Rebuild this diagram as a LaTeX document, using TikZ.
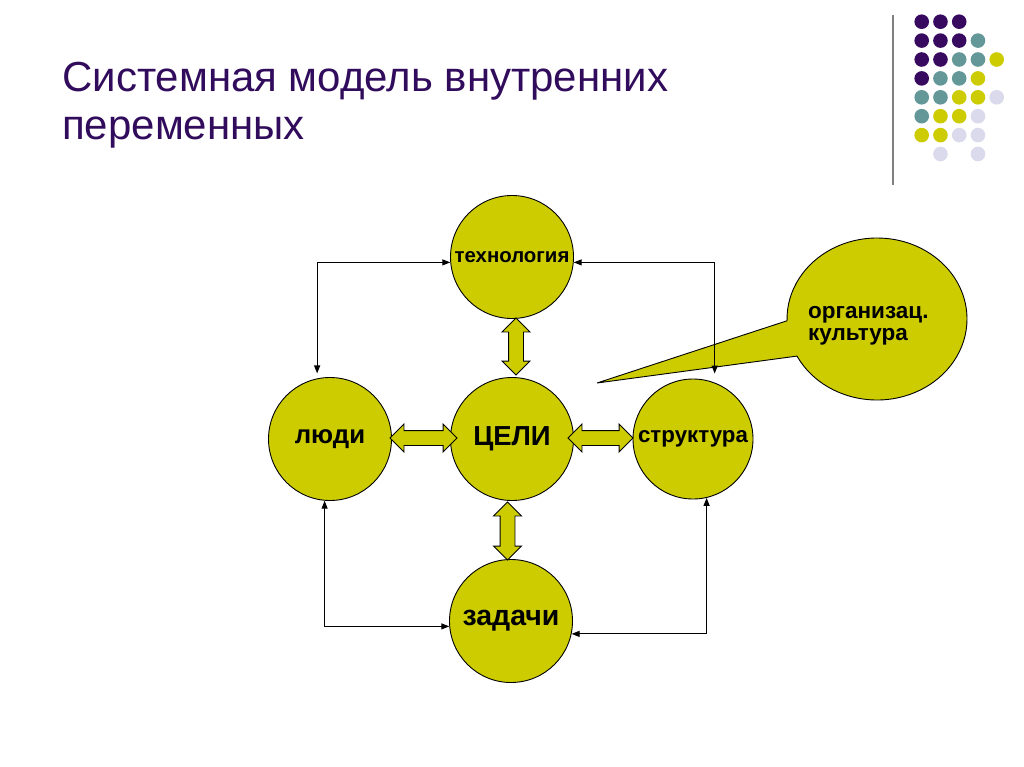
\documentclass[tikz,border=0pt]{standalone}
\usepackage{fontspec}
\setmainfont{Liberation Sans}
\usetikzlibrary{shapes.geometric, shapes.arrows, shapes.callouts, arrows.meta}
\definecolor{TitlePurple}{RGB}{50,12,92}
\definecolor{dotP}{RGB}{55,10,95}
\definecolor{dotT}{RGB}{100,152,152}
\definecolor{dotY}{RGB}{204,204,0}
\definecolor{dotL}{RGB}{218,218,236}
\definecolor{Olive}{RGB}{204,204,0}
\newcommand{\fsz}[1]{\bfseries\fontsize{#1}{#1}\selectfont}
\tikzstyle{factor} = [circle, draw=black, line width=0.9pt, fill=Olive, minimum size=123pt, inner sep=0pt]
\tikzstyle{link} = [{Triangle[length=8pt,width=6pt]}-{Triangle[length=8pt,width=6pt]}, line width=1.2pt]
\tikzstyle{fat} = [double arrow, draw=black, line width=0.9pt, fill=Olive, double arrow head extend=6.5pt, inner sep=7pt]

\begin{document}
\begin{tikzpicture}[x=1pt,y=-1pt]
  \useasboundingbox (0,0) rectangle (1024,767);
  \fill[white] (0,0) rectangle (1024,767);
  \node[anchor=base west, text=TitlePurple, font=\fontsize{42}{48}\selectfont, inner sep=0pt] (title1) at (62,92) {Системная модель внутренних};
  \node[anchor=base west, text=TitlePurple, font=\fontsize{42}{48}\selectfont, inner sep=0pt] (title2) at (62,140) {переменных};
  \draw[gray, line width=1.5pt] (893,15) -- (893,185);
  \foreach \c/\r/\clr in {1/0/dotP, 2/0/dotP, 3/0/dotP,
      1/1/dotP, 2/1/dotP, 3/1/dotP, 4/1/dotT,
      1/2/dotP, 2/2/dotP, 3/2/dotT, 4/2/dotT, 5/2/dotY,
      1/3/dotP, 2/3/dotT, 3/3/dotT, 4/3/dotY,
      1/4/dotT, 2/4/dotT, 3/4/dotY, 4/4/dotY, 5/4/dotL,
      1/5/dotT, 2/5/dotY, 3/5/dotY, 4/5/dotL,
      1/6/dotY, 2/6/dotY, 3/6/dotL, 4/6/dotL,
      2/7/dotL, 4/7/dotL}
    \fill[\clr] ({921.7+(\c-1)*18.75},{21.7+\r*18.9}) circle (7.3pt);
  \node[factor, font=\fsz{20.4}] (tech) at (512,257) {\raisebox{-4pt}{технология}};
  \node[factor, font=\fsz{27.5}] (goals) at (512,439) {ЦЕЛИ};
  \node[factor, font=\fsz{25.8}] (people) at (330,439) {люди};
  \node[factor, minimum size=120pt, font=\fsz{22.3}] (struct) at (693,439) {структура};
  \node[factor, font=\fsz{28.5}] (tasks) at (511,621) {задачи};
  \node[ellipse callout, draw=black, line width=0.9pt, fill=Olive, minimum width=180pt, minimum height=162pt, inner sep=0pt, callout absolute pointer={(597,383)}, callout pointer arc=26] (culture) at (877,319) {};
  \node[anchor=north west, align=left, inner sep=0pt, font=\bfseries\fontsize{22.5}{22}\selectfont] (culturetext) at (808,306) {организац.\\культура};
  \node[fat, rotate=90, minimum height=57pt] (up1) at (516,346.5) {};
  \node[fat, rotate=90, minimum height=58pt] (down1) at (507.5,531) {};
  \node[fat, minimum height=67pt] (left1) at (423.5,438) {};
  \node[fat, minimum height=65pt] (right1) at (600.5,438) {};
  \draw[link, shorten <=5pt] (people.102) |- (tech.185);
  \draw[link, shorten <=9pt] (struct.69) |- (tech.355);
  \draw[link] (people.265) |- (tasks.185);
  \draw[link] (struct.283) |- (tasks.348);
\end{tikzpicture}
\end{document}
